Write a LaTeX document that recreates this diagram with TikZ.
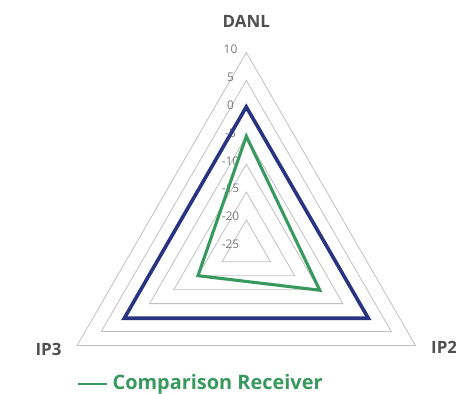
\documentclass[tikz,border=0pt]{standalone}
\usepackage{fontspec}
\setmainfont{Open Sans}
\definecolor{ringgray}{HTML}{C0C0C0}
\definecolor{tickgray}{HTML}{7A7A7A}
\definecolor{labelgray}{HTML}{505050}
\definecolor{refnavy}{HTML}{283482}
\definecolor{cmpgreen}{HTML}{38995E}
\begin{document}
\begin{tikzpicture}[x=27.9bp, y=27.9bp,
    ring/.style={draw=ringgray, line width=0.8pt},
    tick/.style={text=tickgray, inner sep=0pt, font=\fontsize{12}{12}\selectfont},
    axislabel/.style={text=labelgray, inner sep=0pt, font=\bfseries\fontsize{17}{17}\selectfont},
    series/.style={line width=3.6pt, line join=miter}]
    \useasboundingbox (-8.828,-5.240) rectangle (7.516,8.882);
    \def\Nrings{7}

    % Grid rings
    \foreach \r in {1,...,\Nrings} {
        \draw[ring] (90:\r) -- (-30:\r) -- (210:\r) -- cycle;
    }

    % Ring values
    \foreach \r/\v in {0/-25,1/-20,2/-15,3/-10,4/-5,5/0,6/5,7/10} {
        \node[tick] (tick\r) at (-0.566,\r+0.12) {\v};
    }

    % Axis names
    \node[axislabel] (danl) at (0,8.1) {DANL};
    \node[axislabel, anchor=west] (ip2) at (6.62,-3.56) {IP2};
    \node[axislabel] (ip3) at (-7.09,-3.63) {IP3};

    % Reference receiver
    \coordinate (ref-danl) at (90:5.05);
    \coordinate (ref-ip2) at (-30:5.05);
    \coordinate (ref-ip3) at (210:5.05);
    \draw[series, refnavy] (ref-danl) -- (ref-ip2) -- (ref-ip3) -- cycle;

    % Comparison receiver
    \coordinate (cmp-danl) at (90:4);
    \coordinate (cmp-ip2) at (-30:3.04);
    \coordinate (cmp-ip3) at (210:2);
    \draw[series, cmpgreen, line width=3.1pt] (cmp-danl) -- (cmp-ip2) -- (cmp-ip3) -- cycle;

    % Legend
    \coordinate (leg-a) at (-6.02,-4.87);
    \coordinate (leg-b) at (-5.0,-4.87);
    \draw[cmpgreen, line width=2pt] (leg-a) -- (leg-b);
    \node[anchor=base west, inner sep=0pt, text=cmpgreen, font=\bfseries\fontsize{20}{20}\selectfont] (legend) at (-4.8,-5.07) {Comparison Receiver};
\end{tikzpicture}
\end{document}
